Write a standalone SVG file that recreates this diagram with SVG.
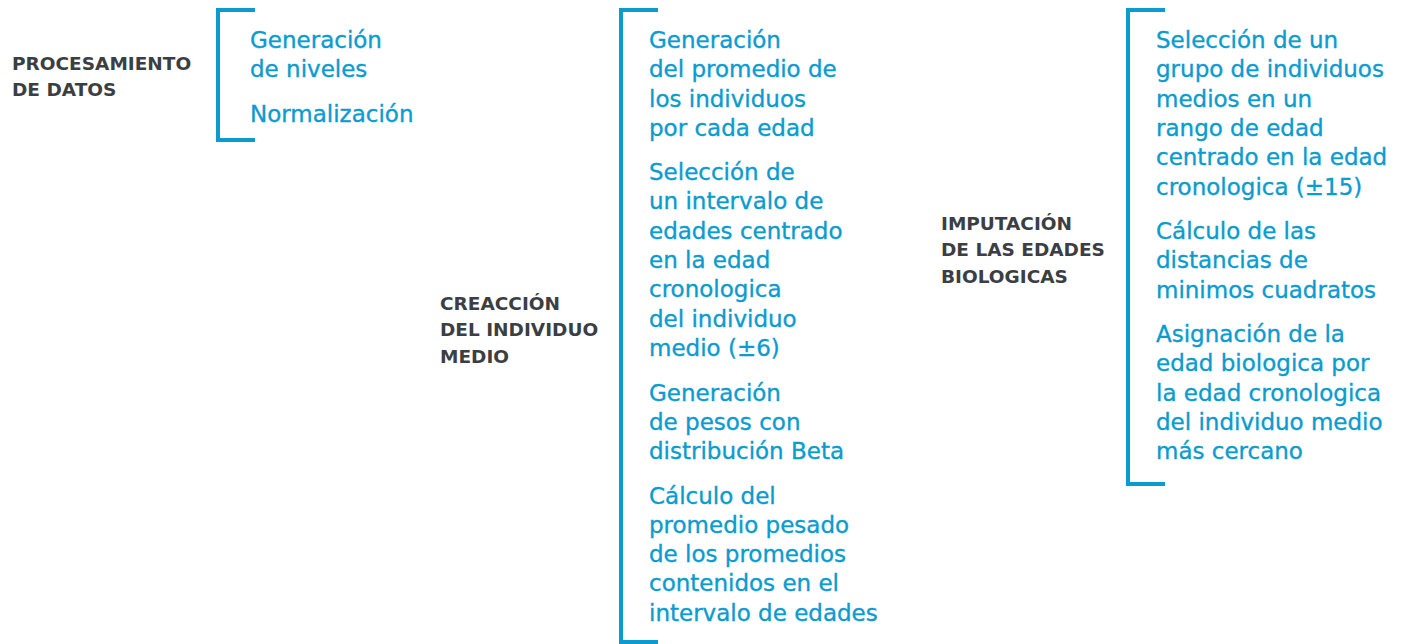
<svg xmlns="http://www.w3.org/2000/svg" width="1404" height="644" viewBox="0 0 1404 644">
  <style>
    .lbl { font-family: "DejaVu Sans", "Liberation Sans", sans-serif; font-weight: bold; font-size: 18.5px; fill: #3b3e42; }
    .item { font-family: "DejaVu Sans", "Liberation Sans", sans-serif; font-size: 23px; fill: #0b9bcf; stroke: #0b9bcf; stroke-width: 0.35px; }
    .br { fill: none; stroke: #0b9bcf; stroke-width: 4; stroke-linejoin: miter; }
  </style>
  <rect width="1404" height="644" fill="#ffffff"/>

  <g id="connectors">
    <path class="br" d="M255,10 H218 V140 H255"/>
    <path class="br" d="M658,10 H621 V642 H658"/>
    <path class="br" d="M1165,10 H1128 V484 H1165"/>
  </g>

  <g id="procesamiento">
    <text class="lbl" x="12" y="70">PROCESAMIENTO</text>
    <text class="lbl" x="12" y="96">DE DATOS</text>
  </g>
  <g id="procesamiento-items">
    <text class="item" x="250" y="48">Generación</text>
    <text class="item" x="250" y="77.3">de niveles</text>
    <text class="item" x="250" y="121.5">Normalización</text>
  </g>

  <g id="creaccion">
    <text class="lbl" x="440" y="309.5">CREACCIÓN</text>
    <text class="lbl" x="440" y="336">DEL INDIVIDUO</text>
    <text class="lbl" x="440" y="362.5">MEDIO</text>
  </g>
  <g id="creaccion-items">
    <text class="item" x="649" y="48">Generación</text>
    <text class="item" x="649" y="77.3">del promedio de</text>
    <text class="item" x="649" y="106.6">los individuos</text>
    <text class="item" x="649" y="136">por cada edad</text>
    <text class="item" x="649" y="180">Selección de</text>
    <text class="item" x="649" y="209.3">un intervalo de</text>
    <text class="item" x="649" y="238.6">edades centrado</text>
    <text class="item" x="649" y="268">en la edad</text>
    <text class="item" x="649" y="297.3">cronologica</text>
    <text class="item" x="649" y="326.6">del individuo</text>
    <text class="item" x="649" y="356">medio (±6)</text>
    <text class="item" x="649" y="400.5">Generación</text>
    <text class="item" x="649" y="429.8">de pesos con</text>
    <text class="item" x="649" y="459">distribución Beta</text>
    <text class="item" x="649" y="503.5">Cálculo del</text>
    <text class="item" x="649" y="532.8">promedio pesado</text>
    <text class="item" x="649" y="562">de los promedios</text>
    <text class="item" x="649" y="591.4">contenidos en el</text>
    <text class="item" x="649" y="620.7">intervalo de edades</text>
  </g>

  <g id="imputacion">
    <text class="lbl" x="941" y="229.5">IMPUTACIÓN</text>
    <text class="lbl" x="941" y="256">DE LAS EDADES</text>
    <text class="lbl" x="941" y="282.5">BIOLOGICAS</text>
  </g>
  <g id="imputacion-items">
    <text class="item" x="1156" y="48">Selección de un</text>
    <text class="item" x="1156" y="77.3">grupo de individuos</text>
    <text class="item" x="1156" y="106.6">medios en un</text>
    <text class="item" x="1156" y="136">rango de edad</text>
    <text class="item" x="1156" y="165.3">centrado en la edad</text>
    <text class="item" x="1156" y="194.6">cronologica (±15)</text>
    <text class="item" x="1156" y="239">Cálculo de las</text>
    <text class="item" x="1156" y="268.3">distancias de</text>
    <text class="item" x="1156" y="297.6">minimos cuadratos</text>
    <text class="item" x="1156" y="342">Asignación de la</text>
    <text class="item" x="1156" y="371.3">edad biologica por</text>
    <text class="item" x="1156" y="400.6">la edad cronologica</text>
    <text class="item" x="1156" y="430">del individuo medio</text>
    <text class="item" x="1156" y="459.3">más cercano</text>
  </g>
</svg>
